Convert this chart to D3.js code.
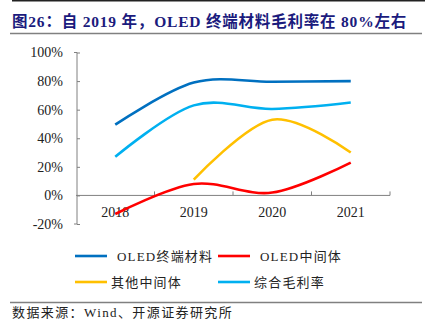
<!DOCTYPE html>
<html>
<head>
<meta charset="utf-8">
<script src="https://cdn.jsdelivr.net/npm/d3@7"></script>
<style>
  body { margin: 0; background: #fff; }
  text { font-family: "Liberation Serif", "Noto Sans CJK SC", serif; }
</style>
</head>
<body>
<div id="container"></div>
<script>
// years and gross margins (%)
const years = ["2018", "2019", "2020", "2021"];
const terminalMat = [49.5, 79, 79.5, 80];      // OLED终端材料
const oledInter = [-13, 8, 2, 23];             // OLED中间体
const otherInter = [null, 11, 53, 30];         // 其他中间体
const overall = [27, 63, 60.5, 65];            // 综合毛利率
const yTicks = [-20, 0, 20, 40, 60, 80, 100];

const series = [
  { name: "OLED终端材料", values: terminalMat, color: "#0070C0" },
  { name: "OLED中间体", values: oledInter, color: "#FF0000" },
  { name: "其他中间体", values: otherInter, color: "#FFC000" },
  { name: "综合毛利率", values: overall, color: "#00B0F0" }
];

const width = 437;
const height = 336;

const svg = d3.select("#container")
  .append("svg")
  .attr("width", width)
  .attr("height", height);

// header rules and title
svg.append("line")
  .attr("x1", 12).attr("x2", 425).attr("y1", 0.8).attr("y2", 0.8)
  .style("stroke", "#222").style("stroke-width", 1.6);

svg.append("text")
  .attr("x", 12).attr("y", 27)
  .style("font-size", "15.5px")
  .style("font-weight", "bold")
  .style("letter-spacing", "0.8px")
  .style("fill", "#1b1b7d")
  .text("图26：自 2019 年，OLED 终端材料毛利率在 80%左右");

svg.append("line")
  .attr("x1", 10).attr("x2", 422).attr("y1", 33.5).attr("y2", 33.5)
  .style("stroke", "#808080").style("stroke-width", 1.5);

// scales
const x = d3.scaleBand().domain(years).range([76, 390]);
const y = d3.scaleLinear().domain([-20, 100]).range([224, 52.5]);
const cx = yr => x(yr) + x.bandwidth() / 2;

// y axis
const yAxis = svg.append("g")
  .attr("transform", `translate(${x.range()[0] + 1},0)`)
  .call(d3.axisLeft(y).tickValues(yTicks).tickSize(-3).tickPadding(14)
    .tickFormat(d => d + "%"));
yAxis.select(".domain").attr("d", `M-3,${y(-20)}H0V${y(100)}H-3`).style("stroke", "#808080");
yAxis.selectAll(".tick line").attr("x2", 3).style("stroke", "#808080");
yAxis.selectAll(".tick text")
  .attr("x", -14)
  .style("font-size", "14px")
  .style("fill", "#222")
  .style("font-family", "Liberation Serif, serif");

// x axis sits on the 0% line, labels hang below it
const xAxis = svg.append("g")
  .attr("transform", `translate(0,${y(0)})`);
xAxis.append("line")
  .attr("x1", x.range()[0]).attr("x2", x.range()[1])
  .style("stroke", "#808080");
xAxis.selectAll("line.tk")
  .data(years.slice(1).concat(["end"]))
  .join("line")
  .attr("class", "tk")
  .attr("x1", (d, i) => x.range()[0] + x.step() * (i + 1))
  .attr("x2", (d, i) => x.range()[0] + x.step() * (i + 1))
  .attr("y1", -4).attr("y2", 0)
  .style("stroke", "#808080");
xAxis.selectAll("text")
  .data(years)
  .join("text")
  .attr("x", d => cx(d))
  .attr("y", 22)
  .attr("text-anchor", "middle")
  .style("font-size", "14px")
  .style("fill", "#222")
  .text(d => d);

// smoothed lines (gaps skipped)
const line = d3.line()
  .x(p => cx(years[p[1]]))
  .y(p => y(p[0]))
  .curve(d3.curveCardinal.tension(0));

svg.selectAll("path.series")
  .data(series)
  .join("path")
  .attr("class", "series")
  .attr("d", s => line(s.values.map((v, i) => [v, i]).filter(p => p[0] != null)))
  .style("fill", "none")
  .style("stroke", s => s.color)
  .style("stroke-width", 2.6);

// legend
const legendPos = [[75, 256], [218, 256], [75, 282], [218, 282]];
const legend = svg.selectAll("g.legend")
  .data(series)
  .join("g")
  .attr("class", "legend")
  .attr("transform", (d, i) => `translate(${legendPos[i][0]},${legendPos[i][1]})`);
legend.append("line")
  .attr("x1", 0).attr("x2", 32)
  .style("stroke", d => d.color)
  .style("stroke-width", 2.6);
legend.append("text")
  .attr("x", d => d.name.startsWith("OLED") ? 42 : 36)
  .attr("y", 5)
  .style("font-size", "13px")
  .style("letter-spacing", "1.2px")
  .style("fill", "#222")
  .text(d => d.name);

// source note
svg.append("line")
  .attr("x1", 10).attr("x2", 422).attr("y1", 302.5).attr("y2", 302.5)
  .style("stroke", "#808080").style("stroke-width", 1.3);

svg.append("text")
  .attr("x", 12).attr("y", 317)
  .style("font-size", "13px")
  .style("letter-spacing", "1.4px")
  .style("fill", "#222")
  .text("数据来源：Wind、开源证券研究所");
</script>
</body>
</html>
